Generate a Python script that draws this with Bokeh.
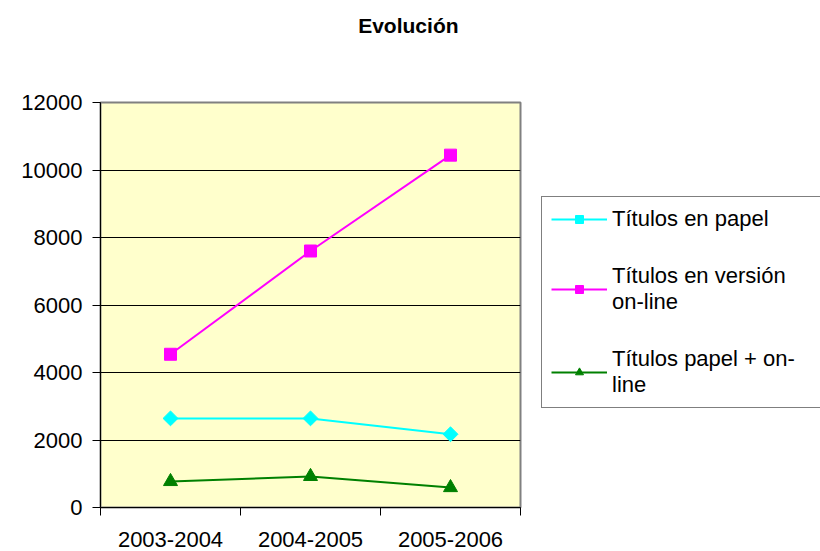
from bokeh.plotting import figure
from bokeh.models import Range1d, FixedTicker, Legend, LegendItem, Label
from bokeh.layouts import column
from bokeh.embed import file_html
from bokeh.resources import INLINE
import math

# ---- data ----
categories = ["2003-2004", "2004-2005", "2005-2006"]
papel = [2640, 2640, 2170]
online = [4540, 7600, 10440]
papel_online = [770, 920, 590]
series_names = ["Títulos en papel", "Títulos en versión\non-line", "Títulos papel + on-\nline"]
y_ticks = [0, 2000, 4000, 6000, 8000, 10000, 12000]
title_text = "Evolución"

xs = [i + 0.5 for i in range(len(categories))]
FONT = "Liberation Sans"

# ---- title strip ----
tf = figure(width=820, height=48, frame_width=420, frame_height=48,
            min_border_left=100, min_border_right=300, min_border_top=0, min_border_bottom=0,
            x_range=Range1d(0, 1), y_range=Range1d(0, 1),
            x_axis_location=None, y_axis_location=None,
            output_backend="svg", toolbar_location=None, title=None)
tf.outline_line_color = None
tf.grid.visible = False
tf.background_fill_color = "white"
tlab = Label(x=0.733, y=0.48, text=title_text, text_align="center", text_baseline="middle",
             text_font=FONT, text_font_size="21px", text_font_style="bold", text_color="black")
tf.add_layout(tlab)

# ---- main chart ----
p = figure(width=820, height=503, frame_width=420, frame_height=405,
           min_border_left=100, min_border_right=300, min_border_top=54, min_border_bottom=44,
           x_range=Range1d(0, len(categories)), y_range=Range1d(0, 12000),
           output_backend="svg", toolbar_location=None, title=None)

p.background_fill_color = "#FFFFCC"
p.border_fill_color = "white"
p.outline_line_color = "#808080"
p.outline_line_width = 2

# grid
p.xgrid.visible = False
p.ygrid.grid_line_color = "black"
p.ygrid.grid_line_width = 1
p.ygrid.ticker = FixedTicker(ticks=y_ticks)

# y axis
p.yaxis.ticker = FixedTicker(ticks=y_ticks)
p.yaxis.axis_line_color = "black"
p.yaxis.major_tick_line_color = "black"
p.yaxis.major_tick_out = 8
p.yaxis.major_tick_in = 0
p.yaxis.minor_tick_line_color = None
p.yaxis.major_label_text_font = FONT
p.yaxis.major_label_text_font_size = "22px"
p.yaxis.major_label_text_color = "black"
p.yaxis.major_label_standoff = 10

# x axis: labels at category centres, ticks at boundaries
p.xaxis.ticker = FixedTicker(ticks=xs, minor_ticks=list(range(len(categories) + 1)))
p.xaxis.major_label_overrides = {x: c for x, c in zip(xs, categories)}
p.xaxis.axis_line_color = "black"
p.xaxis.major_tick_line_color = None
p.xaxis.major_tick_out = 0
p.xaxis.major_tick_in = 0
p.xaxis.minor_tick_line_color = "black"
p.xaxis.minor_tick_out = 8
p.xaxis.minor_tick_in = 0
p.xaxis.major_label_text_font = FONT
p.xaxis.major_label_text_font_size = "22px"
p.xaxis.major_label_text_color = "black"
p.xaxis.major_label_standoff = 16

# series
l1 = p.line(xs, papel, line_color="#00FFFF", line_width=2)
m1 = p.scatter(xs, papel, marker="square", angle=math.pi / 4, size=10.5,
               fill_color="#00FFFF", line_color="#00FFFF")
l2 = p.line(xs, online, line_color="#FF00FF", line_width=2)
m2 = p.scatter(xs, online, marker="square", size=12, fill_color="#FF00FF", line_color="#FF00FF")
l3 = p.line(xs, papel_online, line_color="#008000", line_width=2)
m3 = p.scatter(xs, papel_online, marker="triangle", size=14, fill_color="#008000", line_color="#008000")

legend = Legend(items=[
    LegendItem(label=series_names[0], renderers=[l1, m1]),
    LegendItem(label=series_names[1], renderers=[l2, m2]),
    LegendItem(label=series_names[2], renderers=[l3, m3]),
], location=(21, 99))
legend.border_line_color = "black"
legend.border_line_width = 1
legend.background_fill_color = "white"
legend.background_fill_alpha = 1
legend.label_text_font = FONT
legend.label_text_font_size = "22px"
legend.label_text_color = "black"
legend.glyph_width = 56
legend.glyph_height = 20
legend.label_standoff = 5
legend.label_width = 200
legend.padding = 9
legend.spacing = 31
legend.margin = 0
p.add_layout(legend, "right")

layout = column(tf, p, spacing=0)
open("out.html", "w").write(file_html(layout, INLINE))
